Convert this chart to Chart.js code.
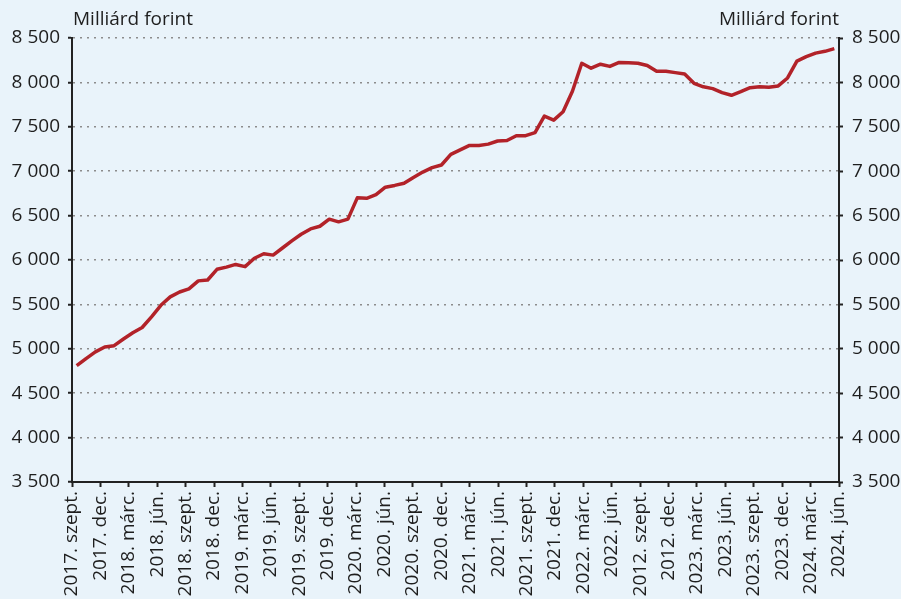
<!DOCTYPE html>
<html><head><meta charset="utf-8">
<script src="https://cdn.jsdelivr.net/npm/chart.js@4/dist/chart.umd.min.js"></script>
<style>html,body{margin:0;padding:0;background:#E9F3FA;}canvas{display:block;}</style>
</head><body>
<canvas id="c" width="901" height="599"></canvas>
<script>
const unitLabel = "Milliárd forint";
const tickLabels = ["2017. szept.","2017. dec.","2018. márc.","2018. jún.","2018. szept.","2018. dec.",
  "2019. márc.","2019. jún.","2019. szept.","2019. dec.","2020. márc.","2020. jún.","2020. szept.","2020. dec.",
  "2021. márc.","2021. jún.","2021. szept.","2021. dec.","2022. márc.","2022. jún.","2012. szept.","2012. dec.",
  "2023. márc.","2023. jún.","2023. szept.","2023. dec.","2024. márc.","2024. jún."];
const yTicks = [3500,4000,4500,5000,5500,6000,6500,7000,7500,8000,8500];
// monthly values, 2017 Sept – 2024 June
const values = [
  4810,4890,4965,5020,5035,5110,5180,5240,5360,5490,5585,5640,5675,5765,5775,5895,
  5920,5950,5925,6020,6070,6055,6135,6215,6290,6350,6380,6460,6430,6460,
  6700,6695,6735,6820,6840,6865,6930,6990,7040,7070,7190,7240,7290,7290,7305,7340,7345,7400,7400,7435,
  7620,7575,7670,7900,8215,8160,8205,8180,8225,8220,8215,8190,8125,8125,8110,8095,
  7990,7950,7930,7885,7855,7895,7940,7950,7945,7960,8050,8240,8290,8330,8350,8380];
const monthIdx = values.map((v,i)=>i);

const FONT = '"Open Sans", "DejaVu Sans", sans-serif';
const FS = 19;
const TXT = '#1e1e1e';
const AX = '#222222';

const deco = {
  id:'deco',
  beforeDraw(chart){
    const ctx = chart.ctx; ctx.save();
    ctx.fillStyle = '#E9F3FA'; ctx.fillRect(0,0,chart.width,chart.height);
    ctx.restore();
  },
  afterDraw(chart){
    const ctx = chart.ctx, a = chart.chartArea; ctx.save();
    ctx.font = FS + 'px ' + FONT; ctx.fillStyle = TXT; ctx.textBaseline = 'alphabetic';
    ctx.textAlign = 'left'; ctx.fillText(unitLabel, a.left + 1, 25);
    ctx.textAlign = 'right'; ctx.fillText(unitLabel, a.right, 25);
    ctx.restore();
  }
};

const fmt = v => { const s = String(v); return s.length > 3 ? s.slice(0, s.length-3) + ' ' + s.slice(-3) : s; };

const yCommon = {
  type:'linear', min:3500, max:8500,
  afterBuildTicks: s => { s.ticks = yTicks.map(v => ({value:v})); },
  ticks:{ color:TXT, font:{family:FONT, size:FS}, callback: v => fmt(v) },
  border:{ display:true, color:AX, width:2, dash:[2,5] },
};

new Chart(document.getElementById('c'), {
  type:'line',
  data:{ labels: monthIdx, datasets:[{
    data: values, xAxisID:'x', yAxisID:'y',
    borderColor:'#B22229', borderWidth:3.5, pointRadius:0, tension:0, fill:false,
    borderCapStyle:'butt', borderJoinStyle:'round'
  }]},
  options:{
    responsive:false, animation:false,
    layout:{ padding:{ top:38, left:0, right:0, bottom:0 } },
    plugins:{ legend:{display:false}, tooltip:{enabled:false} },
    scales:{
      x:{ type:'category', labels: monthIdx, offset:true, display:false },
      x2:{ type:'category', labels: tickLabels, position:'bottom', offset:false,
        afterFit: s => { s.height = 117; },
        grid:{ display:true, drawOnChartArea:false, drawTicks:true, tickLength:5, tickColor:AX, tickWidth:2, offset:false },
        border:{ display:true, color:AX, width:2 },
        ticks:{ autoSkip:false, maxRotation:90, minRotation:90, padding:4, color:TXT, font:{family:FONT, size:FS} }
      },
      y:{ ...yCommon, position:'left',
        afterFit: s => { s.width = 72; },
        grid:{ drawOnChartArea:true, color:'#8c8c8c', lineWidth:1.5, drawTicks:true, tickLength:4, tickColor:AX, tickWidth:2, tickBorderDash:[] },
        ticks:{ ...yCommon.ticks, padding:8 }
      },
      y2:{ ...yCommon, position:'right',
        afterFit: s => { s.width = 62; },
        grid:{ drawOnChartArea:false, drawTicks:true, tickLength:4, tickColor:AX, tickWidth:2, tickBorderDash:[] },
        ticks:{ ...yCommon.ticks, padding:9 }
      }
    }
  },
  plugins:[deco]
});
</script>
</body></html>
